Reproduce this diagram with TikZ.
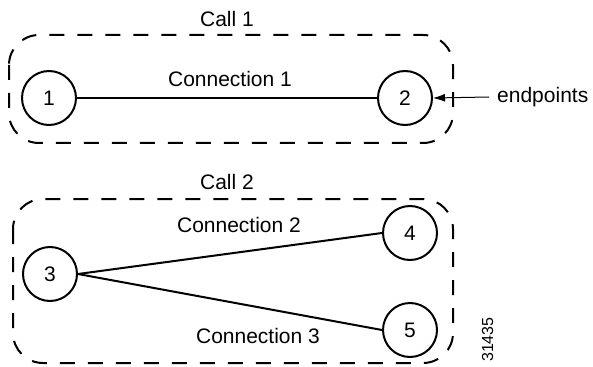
\documentclass[tikz,border=0pt]{standalone}
\usepackage{fontspec}
\setmainfont{Liberation Sans}
\usetikzlibrary{arrows.meta}
\begin{document}
\begin{tikzpicture}[x=1pt,y=-1pt,
  every node/.style={font=\fontsize{21}{25}\selectfont, inner sep=0pt},
  endpt/.style={draw, circle, line width=2pt, minimum size=54pt},
  callbox/.style={draw, line width=2pt, dash pattern=on 15pt off 13pt, rounded corners=30pt},
  conn/.style={line width=2pt},
  lbl/.style={anchor=base}]
\useasboundingbox (0,0) rectangle (593,366);
% boxes
\draw[callbox] (9,35) rectangle (453,143);
\draw[callbox] (13,199) rectangle (453,363);
% labels
\node[lbl] (call1) at (227,27) {Call 1};
\node[lbl] (call2) at (227,189) {Call 2};
\node[lbl] (c1) at (230,87) {Connection 1};
\node[lbl] (c2) at (239,232) {Connection 2};
\node[lbl] (c3) at (258,343) {Connection 3};
% endpoints
\node[endpt] (n1) at (49,98) {1};
\node[endpt] (n2) at (405,98) {2};
\node[endpt] (n3) at (50,274) {3};
\node[endpt] (n4) at (410,233) {4};
\node[endpt] (n5) at (410,330) {5};
% connectors
\draw[conn] (n1.east) -- (n2.west);
\draw[conn] (n3.east) -- (n4.west);
\draw[conn] (n3.east) -- (n5.west);
% endpoints label
\node[anchor=base west] (ep) at (497,103) {endpoints};
\coordinate (epstart) at (489,97);
\draw[line width=1pt, -{Latex[length=12pt,width=8pt]}] (epstart) -- (n2.east);
% figure number
\node[rotate=90, anchor=base west, font=\fontsize{16}{18}\selectfont] (fig) at (493,362) {31435};
\end{tikzpicture}
\end{document}
